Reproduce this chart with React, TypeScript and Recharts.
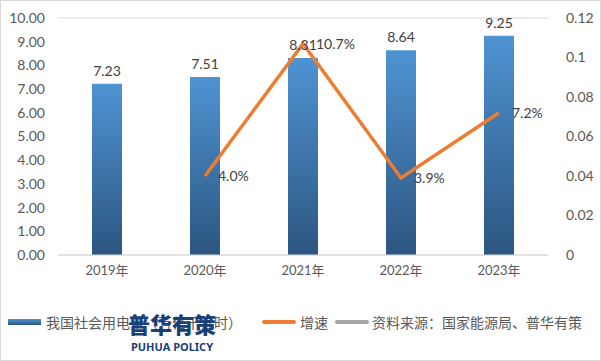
import React from 'react'
import {
  ComposedChart,
  Bar,
  Line,
  XAxis,
  YAxis,
  CartesianGrid,
  LabelList,
} from 'recharts'

const years = ['2019年', '2020年', '2021年', '2022年', '2023年']
const consumption = [7.23, 7.51, 8.31, 8.64, 9.25]
const growth: (number | null)[] = [null, 0.04, 0.107, 0.039, 0.072]
const leftTicks = [0, 1, 2, 3, 4, 5, 6, 7, 8, 9, 10]
const rightTicks = [0, 0.02, 0.04, 0.06, 0.08, 0.1, 0.12]

const data = years.map((year, i) => ({
  year,
  consumption: consumption[i],
  growth: growth[i],
}))

const textColor = '#595959'
const font = "Lato, 'Noto Sans CJK SC', sans-serif"

export default function App() {
  return (
    <div
      style={{
        position: 'absolute',
        left: 0,
        top: 0,
        width: 601,
        height: 361,
        background: '#fff',
        fontFamily: font,
      }}
    >
      <ComposedChart
        width={601}
        height={361}
        data={data}
        margin={{ top: 18, right: 0, bottom: 76, left: 0 }}
        barCategoryGap={34}
      >
        <defs>
          <linearGradient id="barFill" x1="0" y1="0" x2="0" y2="1">
            <stop offset="0%" stopColor="#4f93d3" />
            <stop offset="100%" stopColor="#2c5680" />
          </linearGradient>
        </defs>
        <CartesianGrid vertical={false} stroke="#d9d9d9" />
        <XAxis
          dataKey="year"
          axisLine={{ stroke: '#d9d9d9' }}
          tickLine={false}
          tickSize={0}
          tickMargin={11}
          height={30}
          tick={{ fill: textColor, fontSize: 13, fontFamily: font }}
        />
        <YAxis
          yAxisId="left"
          domain={[0, 10]}
          ticks={leftTicks}
          width={58}
          axisLine={false}
          tickLine={false}
          tickSize={0}
          tickMargin={13}
          tickFormatter={(v: number) => v.toFixed(2)}
          tick={{ fill: textColor, fontSize: 14, fontFamily: font }}
        />
        <YAxis
          yAxisId="right"
          orientation="right"
          domain={[0, 0.12]}
          ticks={rightTicks}
          width={53}
          axisLine={false}
          tickLine={false}
          tickSize={0}
          tickMargin={18}
          tickFormatter={(v: number) => String(Number(v.toFixed(2)))}
          tick={{ fill: textColor, fontSize: 14, fontFamily: font }}
        />
        <Bar
          yAxisId="left"
          dataKey="consumption"
          fill="url(#barFill)"
          barSize={30}
          isAnimationActive={false}
        >
          <LabelList
            dataKey="consumption"
            position="top"
            offset={8}
            formatter={(v: number) => v.toFixed(2)}
            style={{ fill: '#404040', fontSize: 14, fontFamily: font }}
          />
        </Bar>
        <Line
          yAxisId="right"
          dataKey="growth"
          stroke="#ed7d31"
          strokeWidth={3.5}
          dot={false}
          activeDot={false}
          connectNulls={false}
          isAnimationActive={false}
        >
          <LabelList
            dataKey="growth"
            position="right"
            offset={13}
            formatter={(v: number | null) =>
              v == null ? '' : `${(v * 100).toFixed(1)}%`
            }
            style={{ fill: '#404040', fontSize: 14, fontFamily: font }}
          />
        </Line>
      </ComposedChart>

      {/* legend */}
      <div
        style={{
          position: 'absolute',
          left: 0,
          top: 312,
          width: 601,
          height: 20,
          fontSize: 14,
          color: textColor,
          fontFamily: "'Noto Sans CJK SC', sans-serif",
          whiteSpace: 'nowrap',
        }}
      >
        <span
          style={{
            position: 'absolute',
            left: 8,
            top: 7,
            width: 33,
            height: 6,
            background: 'linear-gradient(#4f93d3, #2c5680)',
          }}
        />
        <span style={{ position: 'absolute', left: 46, top: 0, lineHeight: '20px' }}>
          我国社会用电量（万亿千瓦时）
        </span>
        <span
          style={{
            position: 'absolute',
            left: 262,
            top: 8,
            width: 34,
            height: 4,
            borderRadius: 2,
            background: '#ed7d31',
          }}
        />
        <span style={{ position: 'absolute', left: 300, top: 0, lineHeight: '20px' }}>
          增速
        </span>
        <span
          style={{
            position: 'absolute',
            left: 335,
            top: 8,
            width: 34,
            height: 4,
            borderRadius: 2,
            background: '#a5a5a5',
          }}
        />
        <span style={{ position: 'absolute', left: 372, top: 0, lineHeight: '20px' }}>
          资料来源：国家能源局、普华有策
        </span>
      </div>

      {/* watermark */}
      <div
        style={{
          position: 'absolute',
          left: 126,
          top: 308,
          width: 92,
          textAlign: 'center',
          color: '#183f78',
          fontFamily: "'Noto Sans CJK SC', sans-serif",
          fontWeight: 900,
        }}
      >
        <div style={{ fontSize: 22, lineHeight: '30px' }}>普华有策</div>
        <div
          style={{
            fontSize: 11,
            lineHeight: '14px',
            fontFamily: "'Noto Sans', sans-serif",
            fontWeight: 700,
            marginTop: 2,
          }}
        >
          PUHUA POLICY
        </div>
      </div>

      <div
        style={{
          position: 'absolute',
          left: 0,
          top: 0,
          width: 601,
          height: 361,
          boxSizing: 'border-box',
          border: '1px solid #d9d9d9',
          pointerEvents: 'none',
        }}
      />
    </div>
  )
}
